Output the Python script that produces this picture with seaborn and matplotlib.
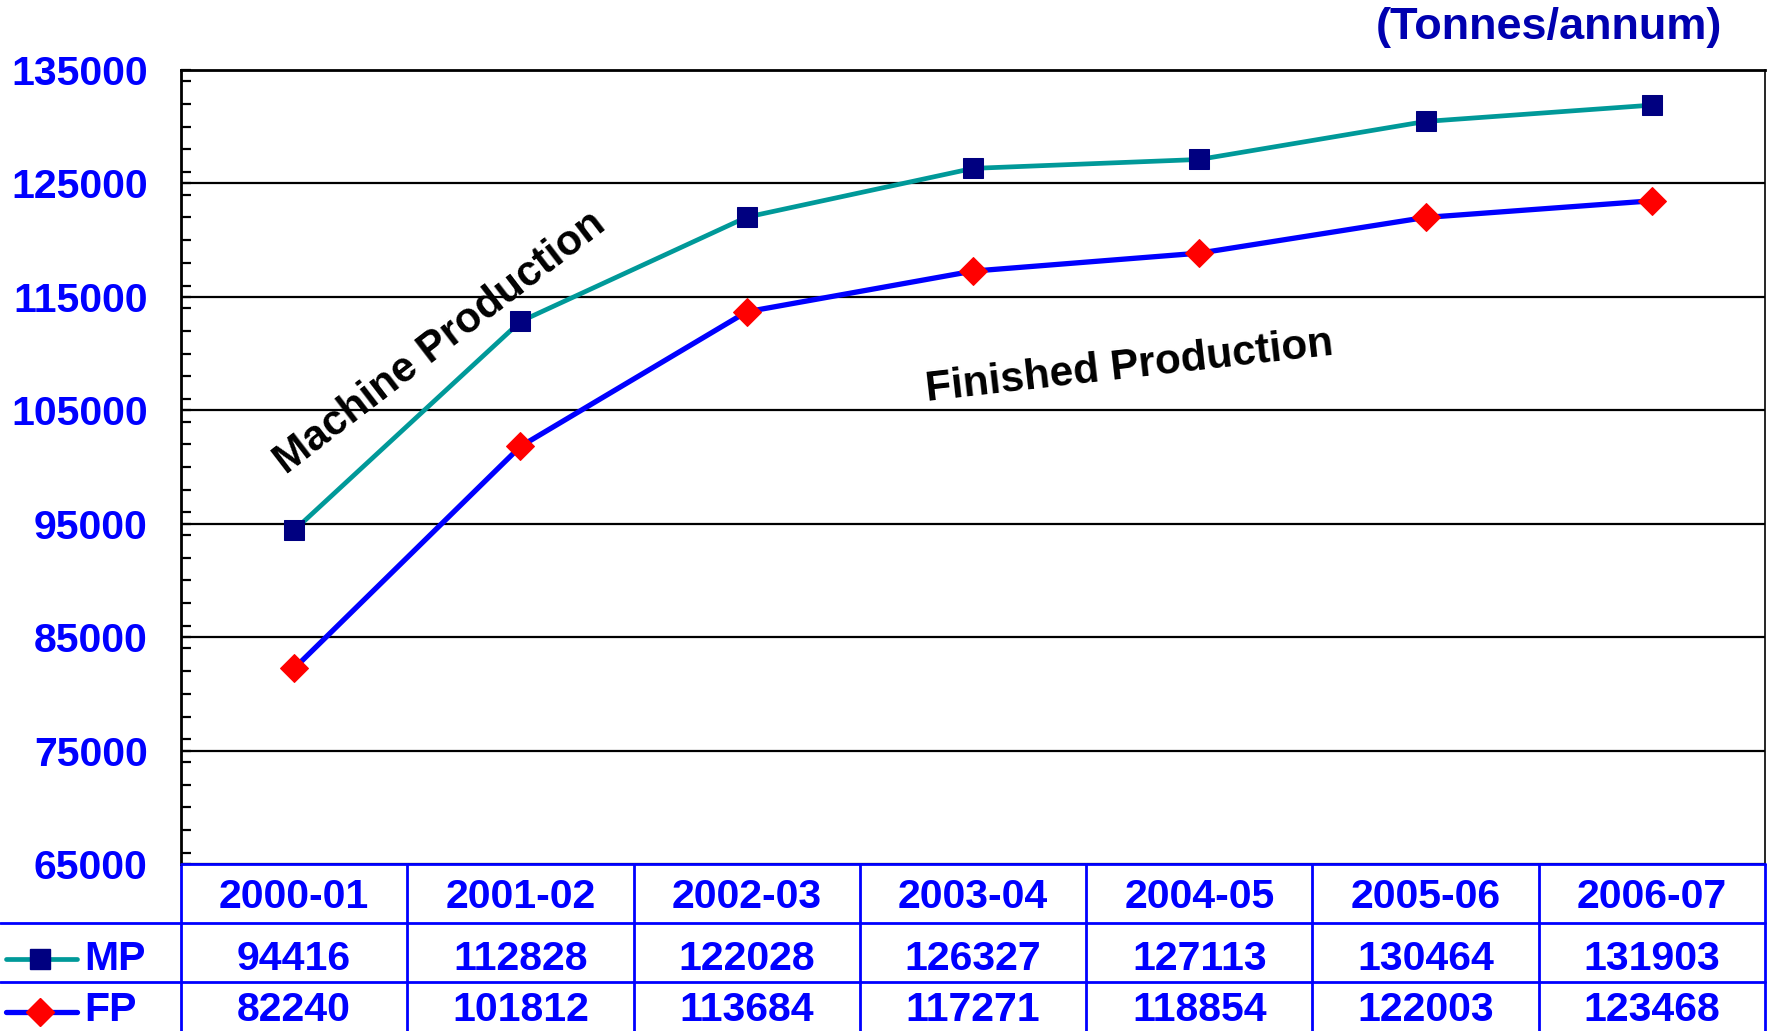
import numpy as np
import pandas as pd
import matplotlib
matplotlib.use("Agg")
import matplotlib.pyplot as plt
import matplotlib.transforms as mtransforms
from matplotlib.ticker import MultipleLocator
from matplotlib.lines import Line2D
import seaborn as sns

# donnees (tonnes / an)
years = ['2000-01', '2001-02', '2002-03', '2003-04', '2004-05', '2005-06', '2006-07']
mp = [94416, 112828, 122028, 126327, 127113, 130464, 131903]
fp = [82240, 101812, 113684, 117271, 118854, 122003, 123468]
series_names = ['MP', 'FP']
y_ticks = list(range(65000, 135001, 10000))

teal = '#009999'
navy = '#000080'
blue = '#0000FF'
red = '#FF0000'

sns.set_style("white")
plt.rcParams['font.family'] = ['Liberation Sans', 'DejaVu Sans']

W, H = 1770, 1031
fig = plt.figure(figsize=(W / 100, H / 100), dpi=100)
ax = fig.add_axes([181 / W, 1 - 864 / H, (1765 - 181) / W, (864 - 70) / H])

df = pd.DataFrame({'x': np.arange(len(years)), 'MP': mp, 'FP': fp})

sns.lineplot(data=df, x='x', y='MP', ax=ax, color=teal, lw=3.4, marker='s', ms=14,
             mfc=navy, mec=navy, legend=False)
sns.lineplot(data=df, x='x', y='FP', ax=ax, color=blue, lw=3.8, marker='D', ms=14,
             mfc=red, mec=red, legend=False)

ax.set_xlim(-0.5, len(years) - 0.5)
ax.set_ylim(65000, 135000)
ax.set_xticks([])
ax.set_xlabel('')
ax.set_ylabel('')
ax.set_yticks(y_ticks)
ax.set_yticklabels([str(v) for v in y_ticks])
ax.yaxis.set_minor_locator(MultipleLocator(2000))
ax.tick_params(axis='y', which='both', direction='in', left=True, color='black', width=1.6)
ax.tick_params(axis='y', which='major', length=7, pad=24, labelsize=29.5, labelcolor=blue)
ax.tick_params(axis='y', which='minor', length=7)
for lab in ax.get_yticklabels():
    lab.set_fontweight('bold')
ax.yaxis.grid(True, which='major', color='black', lw=1.6)
ax.set_axisbelow(True)

ax.spines['bottom'].set_visible(False)
ax.spines['left'].set_color('black')
ax.spines['left'].set_linewidth(2)
ax.spines['top'].set_color('black')
ax.spines['top'].set_linewidth(2)
ax.spines['right'].set_color('black')
ax.spines['right'].set_linewidth(1.2)

# annotations
ax.text(0.646, 110900, 'Machine Production', rotation=37.5, rotation_mode='anchor',
        ha='center', va='center', fontsize=30.5, fontweight='bold', color='black')
ax.text(3.69, 108800, 'Finished Production', rotation=6.5, rotation_mode='anchor',
        ha='center', va='center', fontsize=30.5, fontweight='bold', color='black')

fig.text(1722 / W, 1 - 28 / H, '(Tonnes/annum)', ha='right', va='center',
         fontsize=32.5, fontweight='bold', color='#0000B0')

# tableau de donnees sous le graphique
trans = mtransforms.blended_transform_factory(ax.transData, fig.transFigure)
pos = ax.get_position()
row_lines = [1 - 864 / H, 1 - 923 / H, 1 - 982 / H]
row_y = [1 - 897 / H, 1 - 959 / H, 1 - 1021 / H]
row_va = ['center', 'center', 'baseline']

fig.add_artist(Line2D([pos.x0, pos.x1], [row_lines[0]] * 2, color=blue, lw=2))
for yl in row_lines[1:]:
    fig.add_artist(Line2D([0, pos.x1], [yl] * 2, color=blue, lw=2))
for i in range(len(years) + 1):
    ax.add_line(Line2D([i - 0.5, i - 0.5], [row_lines[0], 0], color=blue, lw=2,
                       transform=trans, clip_on=False))

cell_kw = dict(ha='center', fontsize=29.5, fontweight='bold', color=blue,
               transform=trans, clip_on=False)
rows = [years, [str(v) for v in mp], [str(v) for v in fp]]
for vals, yr, va in zip(rows, row_y, row_va):
    for i, s in enumerate(vals):
        ax.text(i, yr, s, va=va, **cell_kw)

# cles de legende
keys = [(teal, 's', navy, 3.4), (blue, 'D', red, 3.8)]
key_y = [row_y[1], 1 - 1012 / H]
for name, (lc, mk, mc, lw), yk, yt, va in zip(series_names, keys, key_y, row_y[1:], row_va[1:]):
    fig.add_artist(Line2D([6 / W, 77 / W], [yk, yk], color=lc, lw=lw, solid_capstyle='round'))
    fig.add_artist(Line2D([40 / W], [yk], marker=mk, ms=14, mfc=mc, mec=mc, lw=0))
    fig.text(84 / W, yt, name, ha='left', va=va, fontsize=29.5, fontweight='bold', color=blue)

fig.savefig('out.png', dpi=100)
